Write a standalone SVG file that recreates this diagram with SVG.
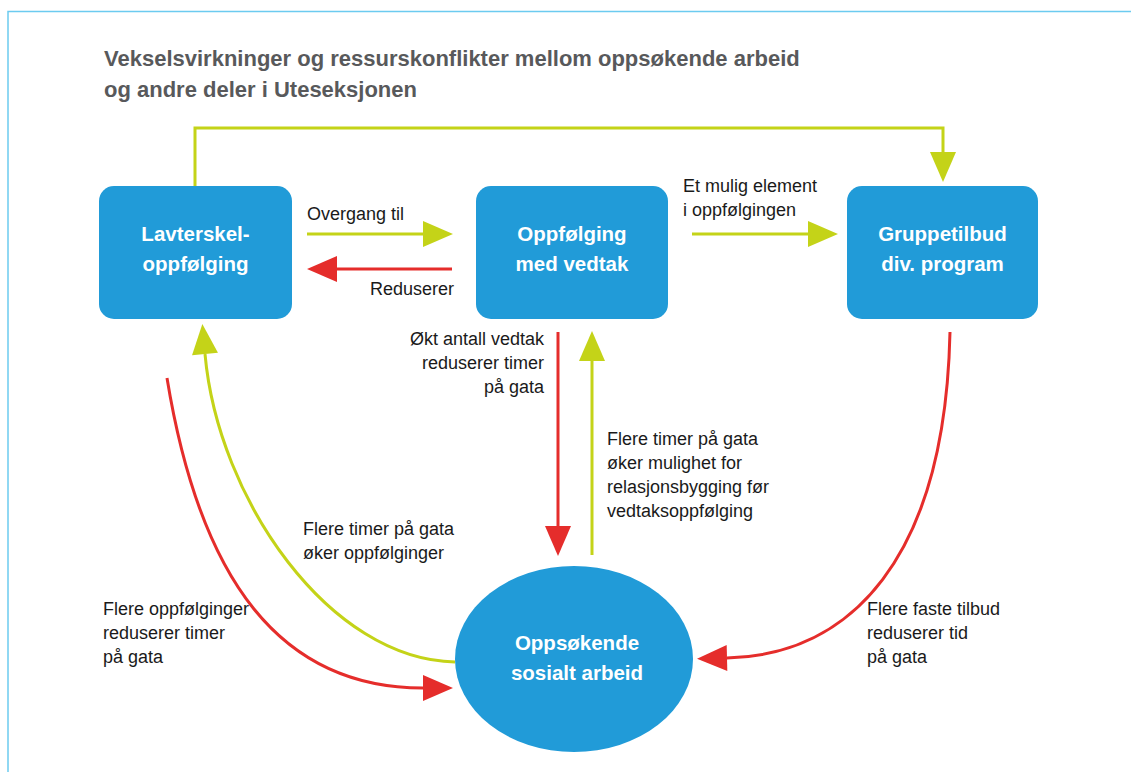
<svg xmlns="http://www.w3.org/2000/svg" width="1131" height="772" viewBox="0 0 1131 772">
<defs>
<style>
.frame{fill:none;stroke:#6ccbf0;stroke-width:1.5}
.title{font-family:"Liberation Sans",Arial,sans-serif;font-weight:bold;font-size:22px;fill:#58595b}
.node{fill:#219bd8}
.nt{font-family:"Liberation Sans",Arial,sans-serif;font-weight:bold;font-size:20.5px;fill:#ffffff;text-anchor:middle}
.lbl{font-family:"Liberation Sans",Arial,sans-serif;font-size:18px;fill:#1a1a1a}
.r{text-anchor:end}
.g{fill:none;stroke:#c4d318;stroke-width:3}
.red{fill:none;stroke:#e52d2b;stroke-width:3}
</style>
<marker id="ag" markerUnits="userSpaceOnUse" markerWidth="30" markerHeight="26" refX="0" refY="13" orient="auto" overflow="visible"><path d="M0,0 L30,13 L0,26 Z" fill="#c4d318"/></marker>
<marker id="ar" markerUnits="userSpaceOnUse" markerWidth="30" markerHeight="26" refX="0" refY="13" orient="auto" overflow="visible"><path d="M0,0 L30,13 L0,26 Z" fill="#e52d2b"/></marker>
</defs>
<rect width="1131" height="772" fill="#ffffff"/>
<path class="frame" d="M8,772 L8,11.5 L1131,11.5"/>
<g id="title">
<text class="title" x="104" y="66">Vekselsvirkninger og ressurskonflikter mellom oppsøkende arbeid</text>
<text class="title" x="104" y="97">og andre deler i Uteseksjonen</text>
</g>
<g id="connectors">
<path class="g" d="M195,186 L195,128 L943,128 L943,152" marker-end="url(#ag)"/>
<path class="g" d="M307,234 L423,234" marker-end="url(#ag)"/>
<path class="red" d="M452,269 L337,269" marker-end="url(#ar)"/>
<path class="g" d="M692,234 L808,234" marker-end="url(#ag)"/>
<path class="red" d="M558,332 L558,526" marker-end="url(#ar)"/>
<path class="g" d="M592,555 L592,361" marker-end="url(#ag)"/>
<path class="g" d="M455,662 C330,660 218,500 205,354" marker-end="url(#ag)"/>
<path class="red" d="M167,378 C200,580 280,688 423,688" marker-end="url(#ar)"/>
<path class="red" d="M950,332 C945,560 850,655 727,658" marker-end="url(#ar)"/>
</g>
<g id="labels">
<text class="lbl" x="307" y="220">Overgang til</text>
<text class="lbl r" x="454" y="295">Reduserer</text>
<text class="lbl" x="683" y="192">Et mulig element</text>
<text class="lbl" x="683" y="216">i oppfølgingen</text>
<text class="lbl r" x="544" y="345">Økt antall vedtak</text>
<text class="lbl r" x="544" y="369">reduserer timer</text>
<text class="lbl r" x="544" y="393">på gata</text>
<text class="lbl" x="607" y="445">Flere timer på gata</text>
<text class="lbl" x="607" y="469">øker mulighet for</text>
<text class="lbl" x="607" y="493">relasjonsbygging før</text>
<text class="lbl" x="607" y="517">vedtaksoppfølging</text>
<text class="lbl" x="303" y="535">Flere timer på gata</text>
<text class="lbl" x="303" y="559">øker oppfølginger</text>
<text class="lbl" x="103" y="615">Flere oppfølginger</text>
<text class="lbl" x="103" y="639">reduserer timer</text>
<text class="lbl" x="103" y="663">på gata</text>
<text class="lbl" x="867" y="615">Flere faste tilbud</text>
<text class="lbl" x="867" y="639">reduserer tid</text>
<text class="lbl" x="867" y="663">på gata</text>
</g>
<g id="node-lavterskel">
<rect class="node" x="99" y="186" width="193" height="133" rx="15"/>
<text class="nt" x="195.5" y="241">Lavterskel-</text>
<text class="nt" x="195.5" y="271">oppfølging</text>
</g>
<g id="node-vedtak">
<rect class="node" x="476" y="186" width="192" height="133" rx="15"/>
<text class="nt" x="572" y="241">Oppfølging</text>
<text class="nt" x="572" y="271">med vedtak</text>
</g>
<g id="node-gruppetilbud">
<rect class="node" x="847" y="186" width="191" height="133" rx="15"/>
<text class="nt" x="942.5" y="241">Gruppetilbud</text>
<text class="nt" x="942.5" y="271">div. program</text>
</g>
<g id="node-oppsokende">
<ellipse class="node" cx="574" cy="659" rx="119" ry="93"/>
<text class="nt" x="577" y="650">Oppsøkende</text>
<text class="nt" x="577" y="680">sosialt arbeid</text>
</g>
</svg>
